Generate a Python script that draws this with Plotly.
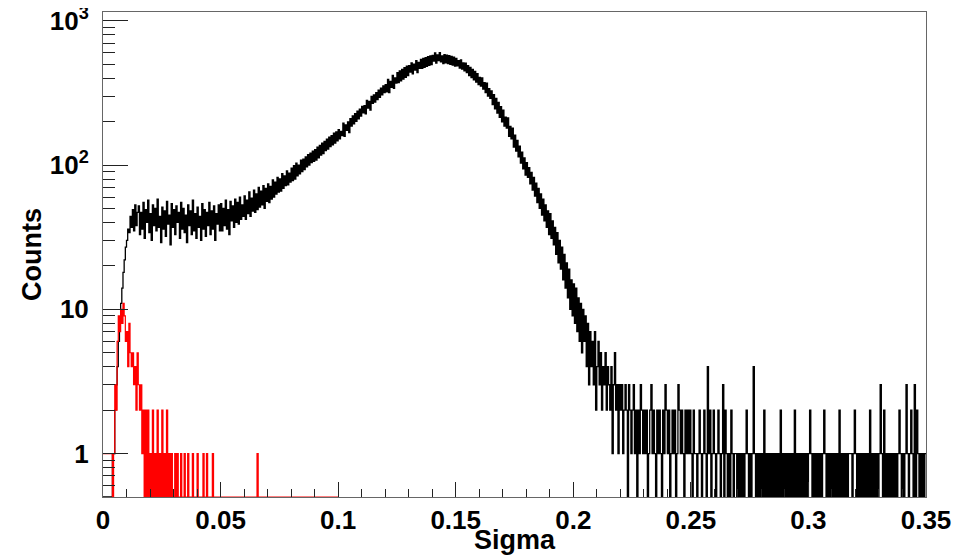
import numpy as np
import plotly.graph_objects as go

# ---------------- data ----------------
BIN_WIDTH = 0.0005          # histogram bin width in Sigma
X_MIN, X_MAX = 0.0, 0.35

# black histogram: counts per bin, 700 bins from 0 to 0.35
counts_all = [
    0, 0, 0, 0, 0, 0, 0, 0, 1, 1,
    2, 3, 4, 6, 8, 11, 14, 18, 22, 27,
    30, 36, 34, 44, 37, 49, 35, 53, 38, 47,
    52, 33, 47, 36, 55, 31, 49, 40, 57, 34,
    46, 30, 53, 38, 50, 35, 58, 37, 44, 29,
    51, 36, 48, 32, 56, 39, 45, 28, 54, 37,
    49, 33, 52, 40, 47, 31, 55, 36, 50, 34,
    45, 29, 53, 38, 48, 33, 57, 35, 46, 31,
    51, 37, 44, 30, 54, 36, 49, 32, 47, 38,
    55, 33, 48, 36, 52, 30, 46, 39, 53, 35,
    54, 35, 50, 38, 57, 36, 49, 33, 56, 41,
    52, 37, 58, 40, 55, 39, 60, 42, 53, 44,
    61, 42, 57, 46, 65, 44, 59, 48, 67, 47,
    63, 49, 70, 51, 66, 53, 72, 50, 69, 56,
    74, 55, 71, 58, 79, 60, 76, 63, 82, 65,
    80, 66, 87, 69, 84, 72, 91, 73, 88, 76,
    95, 78, 99, 80, 103, 84, 100, 87, 108, 90,
    110, 93, 114, 97, 118, 100, 121, 104, 125, 106,
    128, 108, 133, 112, 137, 117, 142, 120, 146, 126,
    151, 129, 156, 134, 160, 138, 166, 142, 170, 147,
    176, 152, 171, 160, 195, 158, 190, 174, 199, 168,
    210, 186, 219, 193, 227, 201, 236, 209, 244, 218,
    255, 230, 258, 226, 280, 248, 276, 240, 299, 268,
    306, 273, 318, 284, 330, 295, 341, 306, 353, 318,
    360, 322, 392, 318, 380, 345, 418, 340, 402, 370,
    437, 372, 449, 383, 461, 394, 473, 405, 485, 416,
    488, 440, 510, 428, 500, 455, 528, 437, 515, 468,
    540, 468, 548, 476, 556, 483, 563, 490, 570, 497,
    575, 525, 598, 508, 580, 530, 600, 520, 570, 505,
    583, 510, 578, 505, 572, 499, 566, 492, 559, 485,
    548, 486, 530, 470, 535, 462, 510, 450, 508, 438,
    489, 417, 475, 403, 460, 390, 445, 375, 430, 361,
    405, 352, 402, 336, 372, 318, 370, 300, 338, 290,
    326, 262, 308, 245, 290, 229, 272, 214, 254, 199,
    240, 186, 215, 180, 212, 158, 185, 152, 180, 133,
    161, 125, 148, 114, 135, 103, 123, 94, 112, 85,
    104, 82, 96, 74, 89, 67, 82, 61, 75, 55,
    69, 50, 63, 45, 58, 41, 53, 37, 48, 33,
    46, 31, 41, 28, 37, 24, 34, 21, 30, 19,
    27, 16, 24, 14, 21, 12, 19, 10, 16, 9,
    15, 8, 14, 7, 12, 6, 11, 5, 10, 6,
    9, 4, 8, 3, 7, 4, 6, 3, 7, 2,
    4, 6, 3, 5, 2, 4, 3, 5, 2, 4,
    3, 2, 4, 1, 3, 5, 2, 3, 1, 3,
    2, 3, 1, 2, 3, 2, 0, 3, 2, 1,
    2, 3, 1, 2, 0, 2, 1, 3, 2, 1,
    2, 1, 2, 0, 1, 2, 3, 1, 2, 1,
    0, 2, 1, 2, 1, 0, 2, 1, 3, 2,
    1, 2, 0, 1, 2, 1, 2, 0, 1, 3,
    2, 1, 2, 1, 0, 2, 1, 2, 1, 2,
    1, 0, 2, 1, 1, 0, 1, 2, 1, 0,
    1, 2, 1, 0, 4, 1, 2, 0, 1, 2,
    1, 0, 1, 2, 1, 0, 1, 3, 0, 2,
    1, 0, 1, 0, 2, 1, 0, 1, 1, 0,
    1, 0, 1, 0, 1, 0, 1, 2, 1, 0,
    1, 0, 1, 4, 1, 0, 1, 0, 1, 0,
    1, 0, 2, 0, 1, 0, 1, 0, 1, 0,
    1, 0, 1, 0, 1, 0, 2, 0, 1, 0,
    1, 0, 1, 0, 1, 0, 1, 0, 2, 0,
    1, 0, 1, 0, 1, 0, 1, 0, 1, 0,
    1, 2, 1, 0, 1, 0, 1, 0, 1, 0,
    1, 0, 1, 2, 1, 0, 1, 0, 1, 0,
    1, 0, 1, 0, 1, 0, 2, 0, 1, 0,
    1, 0, 1, 0, 1, 1, 1, 0, 1, 2,
    1, 0, 1, 0, 1, 0, 1, 0, 1, 0,
    1, 0, 2, 0, 1, 0, 1, 0, 1, 0,
    1, 3, 1, 0, 2, 0, 1, 0, 1, 0,
    1, 0, 1, 0, 1, 0, 1, 2, 1, 0,
    1, 0, 1, 3, 1, 0, 1, 2, 1, 0,
    3, 0, 2, 1, 0, 1, 0, 1, 0, 1,
]

# red histogram: counts per bin, 200 bins from 0 to 0.1
counts_sel = [
    1, 1, 1, 1, 1, 1, 1, 1, 0, 1,
    3, 2, 6, 9, 7, 10, 8, 11, 9, 6,
    7, 4, 8, 5, 4, 5, 3, 4, 2, 5,
    3, 2, 3, 1, 2, 0, 2, 0, 2, 0,
    1, 0, 2, 0, 1, 0, 2, 0, 1, 0,
    2, 0, 1, 0, 2, 0, 1, 0, 1, 0,
    0, 1, 0, 1, 0, 0, 1, 0, 0, 1,
    0, 0, 1, 0, 0, 0, 1, 0, 0, 0,
    1, 0, 0, 0, 0, 1, 0, 0, 1, 0,
    0, 0, 0, 1, 0, 0, 0, 0, 0, 0,
    0, 0, 0, 0, 0, 0, 0, 0, 0, 0,
    0, 0, 0, 0, 0, 0, 0, 0, 0, 0,
    0, 0, 0, 0, 0, 0, 0, 0, 0, 0,
    0, 1, 0, 0, 0, 0, 0, 0, 0, 0,
    0, 0, 0, 0, 0, 0, 0, 0, 0, 0,
    0, 0, 0, 0, 0, 0, 0, 0, 0, 0,
    0, 0, 0, 0, 0, 0, 0, 0, 0, 0,
    0, 0, 0, 0, 0, 0, 0, 0, 0, 0,
    0, 0, 0, 0, 0, 0, 0, 0, 0, 0,
    0, 0, 0, 0, 0, 0, 0, 0, 0, 0,
]

x_tick_vals = [0, 0.05, 0.1, 0.15, 0.2, 0.25, 0.3, 0.35]
x_tick_text = ["0", "0.05", "0.1", "0.15", "0.2", "0.25", "0.3", "0.35"]
y_tick_vals = [1, 10, 100, 1000]
y_tick_text = ["1", "10", "10<sup>2</sup>", "10<sup>3</sup>"]
Y_MIN, Y_MAX = 0.5, 1150

# ---------------- helpers ----------------
def step_xy(counts, start):
    c = np.asarray(counts, dtype=float)
    c = np.maximum(c, Y_MIN)          # empty bins are drawn down to the frame bottom
    edges = start + BIN_WIDTH * np.arange(len(c) + 1)
    y = np.append(c, c[-1])
    return edges, y

xb, yb = step_xy(counts_all, X_MIN)
xr, yr = step_xy(counts_sel, X_MIN)

minor_y = []
for dec in [0.1, 1, 10, 100]:
    for k in range(2, 10):
        v = k * dec
        if Y_MIN <= v <= Y_MAX and v not in y_tick_vals:
            minor_y.append(v)

FONT = "Liberation Sans, Arial, Helvetica, sans-serif"

fig = go.Figure()
fig.add_trace(go.Scatter(x=xb, y=yb, mode="lines", line=dict(color="black", width=1.3, shape="hv"),
                         hoverinfo="skip", showlegend=False))
fig.add_trace(go.Scatter(x=xr, y=yr, mode="lines", line=dict(color="#ff0000", width=1.2, shape="hv"),
                         hoverinfo="skip", showlegend=False))

# the page body adds an 8 px offset, so the figure is 8 px smaller than the window
fig.update_layout(
    width=961, height=547,
    margin=dict(l=95, r=43, t=4, b=58, autoexpand=False),
    paper_bgcolor="white", plot_bgcolor="white",
    font=dict(family=FONT, color="black"),
    showlegend=False,
    annotations=[
        dict(text="<b>Sigma</b>", x=0.5, xref="paper", y=-0.088, yref="paper",
             xanchor="center", yanchor="middle", showarrow=False,
             font=dict(size=27, family=FONT, color="black")),
        dict(text="<b>Counts</b>", x=-0.087, xref="paper", y=0.5, yref="paper",
             xanchor="center", yanchor="middle", textangle=-90, showarrow=False,
             font=dict(size=27, family=FONT, color="black")),
    ],
)

fig.update_xaxes(
    range=[X_MIN, X_MAX], showgrid=False, zeroline=False, automargin=False,
    showline=True, linecolor="#666666", linewidth=1, mirror=True,
    tickmode="array", tickvals=x_tick_vals, ticktext=x_tick_text,
    ticks="inside", ticklen=15, tickcolor="#222222", tickwidth=1,
    tickfont=dict(size=26, family=FONT, color="black", weight="bold"),
    ticklabeloverflow="allow",
    minor=dict(dtick=0.01, tick0=0, ticks="inside", ticklen=8, tickcolor="#222222", tickwidth=1, showgrid=False),
)
fig.update_yaxes(
    type="log", range=[np.log10(Y_MIN), np.log10(Y_MAX)], showgrid=False, zeroline=False, automargin=False,
    showline=True, linecolor="#666666", linewidth=1, mirror=True,
    tickmode="array", tickvals=y_tick_vals, ticktext=y_tick_text,
    ticks="inside", ticklen=25, tickcolor="#222222", tickwidth=1,
    tickfont=dict(size=26, family=FONT, color="black", weight="bold"),
    ticklabelstandoff=8, ticklabeloverflow="allow",
    minor=dict(tickmode="array", tickvals=minor_y, ticks="inside", ticklen=12, tickcolor="#222222", tickwidth=1, showgrid=False),
)

fig.write_html("out.html", config={"displayModeBar": False})
